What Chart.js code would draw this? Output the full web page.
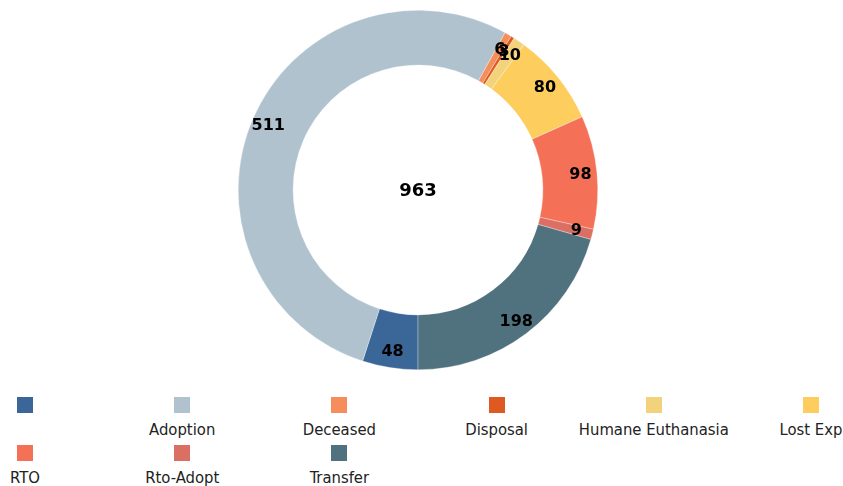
<!DOCTYPE html>
<html>
<head>
<meta charset="utf-8">
<script src="https://cdn.jsdelivr.net/npm/chart.js@4/dist/chart.umd.min.js"></script>
<style>
    body { margin: 0; background: #fff; font-family: 'DejaVu Sans Condensed', 'DejaVu Sans', sans-serif; }
    #wrap { position: relative; width: 843px; height: 486px; overflow: hidden; }
    #chartBox { position: absolute; left: 0; top: 0; width: 843px; height: 380px; }
    .leg-item { position: absolute; width: 156px; text-align: center; font-size: 16.5px; color: #222; white-space: nowrap; }
    .leg-box { width: 16px; height: 16px; margin: 0 auto 7px auto; }
</style>
</head>
<body>
<div id="wrap">
    <div id="chartBox"><canvas id="donutChart"></canvas></div>
    <div id="legend"></div>
</div>
<script>
// outcome categories and counts
const categories = ['', 'Adoption', 'Deceased', 'Disposal', 'Humane Euthanasia', 'Lost Exp', 'RTO', 'Rto-Adopt', 'Transfer'];
const counts = [48, 511, 6, 3, 10, 80, 98, 9, 198];
const sliceColors = ['#3b6698', '#afc2ce', '#f68d5c', '#de5a20', '#f2d27a', '#fdcd5e', '#f47157', '#dc6f63', '#50727e'];

const total = counts.reduce((a, b) => a + b, 0);

// draws the value on each slice and the total in the middle
const sliceLabels = {
    id: 'sliceLabels',
    afterDatasetsDraw(chart) {
        const ctx = chart.ctx;
        const meta = chart.getDatasetMeta(0);
        ctx.save();
        ctx.fillStyle = '#000';
        ctx.textAlign = 'center';
        ctx.textBaseline = 'middle';
        ctx.font = 'bold 16px "DejaVu Sans", sans-serif';
        meta.data.forEach((arc, i) => {
            const p = arc.getProps(['x', 'y', 'startAngle', 'endAngle', 'innerRadius', 'outerRadius'], true);
            const mid = (p.startAngle + p.endAngle) / 2;
            const r = p.innerRadius + (p.outerRadius - p.innerRadius) * 0.7;
            ctx.fillText(String(counts[i]), p.x + Math.cos(mid) * r, p.y + Math.sin(mid) * r + 1);
        });
        const c = meta.data[0];
        ctx.font = 'bold 18px "DejaVu Sans", sans-serif';
        ctx.fillText(String(total), c.x, c.y + 1);
        ctx.restore();
    }
};

const donutChart = new Chart(document.getElementById('donutChart'), {
    type: 'doughnut',
    data: {
        labels: categories,
        datasets: [{
            data: counts,
            backgroundColor: sliceColors,
            borderColor: 'rgba(255,255,255,0.6)',
            borderWidth: 0.5
        }]
    },
    options: {
        responsive: true,
        maintainAspectRatio: false,
        animation: false,
        rotation: 180,
        cutout: '69.5%',
        layout: { padding: { top: 10, bottom: 10, left: 0, right: 7 } },
        plugins: {
            legend: { display: false },
            tooltip: { enabled: false }
        }
    },
    plugins: [sliceLabels]
});

// build legend: box above label, 6 per row
function buildLegend(chart) {
    const holder = document.getElementById('legend');
    const items = chart.options.plugins.legend.labels.generateLabels(chart);
    items.forEach((item, i) => {
        const col = i % 6;
        const row = Math.floor(i / 6);
        const el = document.createElement('div');
        el.className = 'leg-item';
        el.style.left = (25 + col * 157.2 - 78) + 'px';
        el.style.top = (397 + row * 48) + 'px';
        el.innerHTML = '<div class="leg-box" style="background:' + item.fillStyle + '"></div><span>' + (item.text || '&nbsp;') + '</span>';
        holder.appendChild(el);
    });
}
buildLegend(donutChart);
</script>
</body>
</html>
